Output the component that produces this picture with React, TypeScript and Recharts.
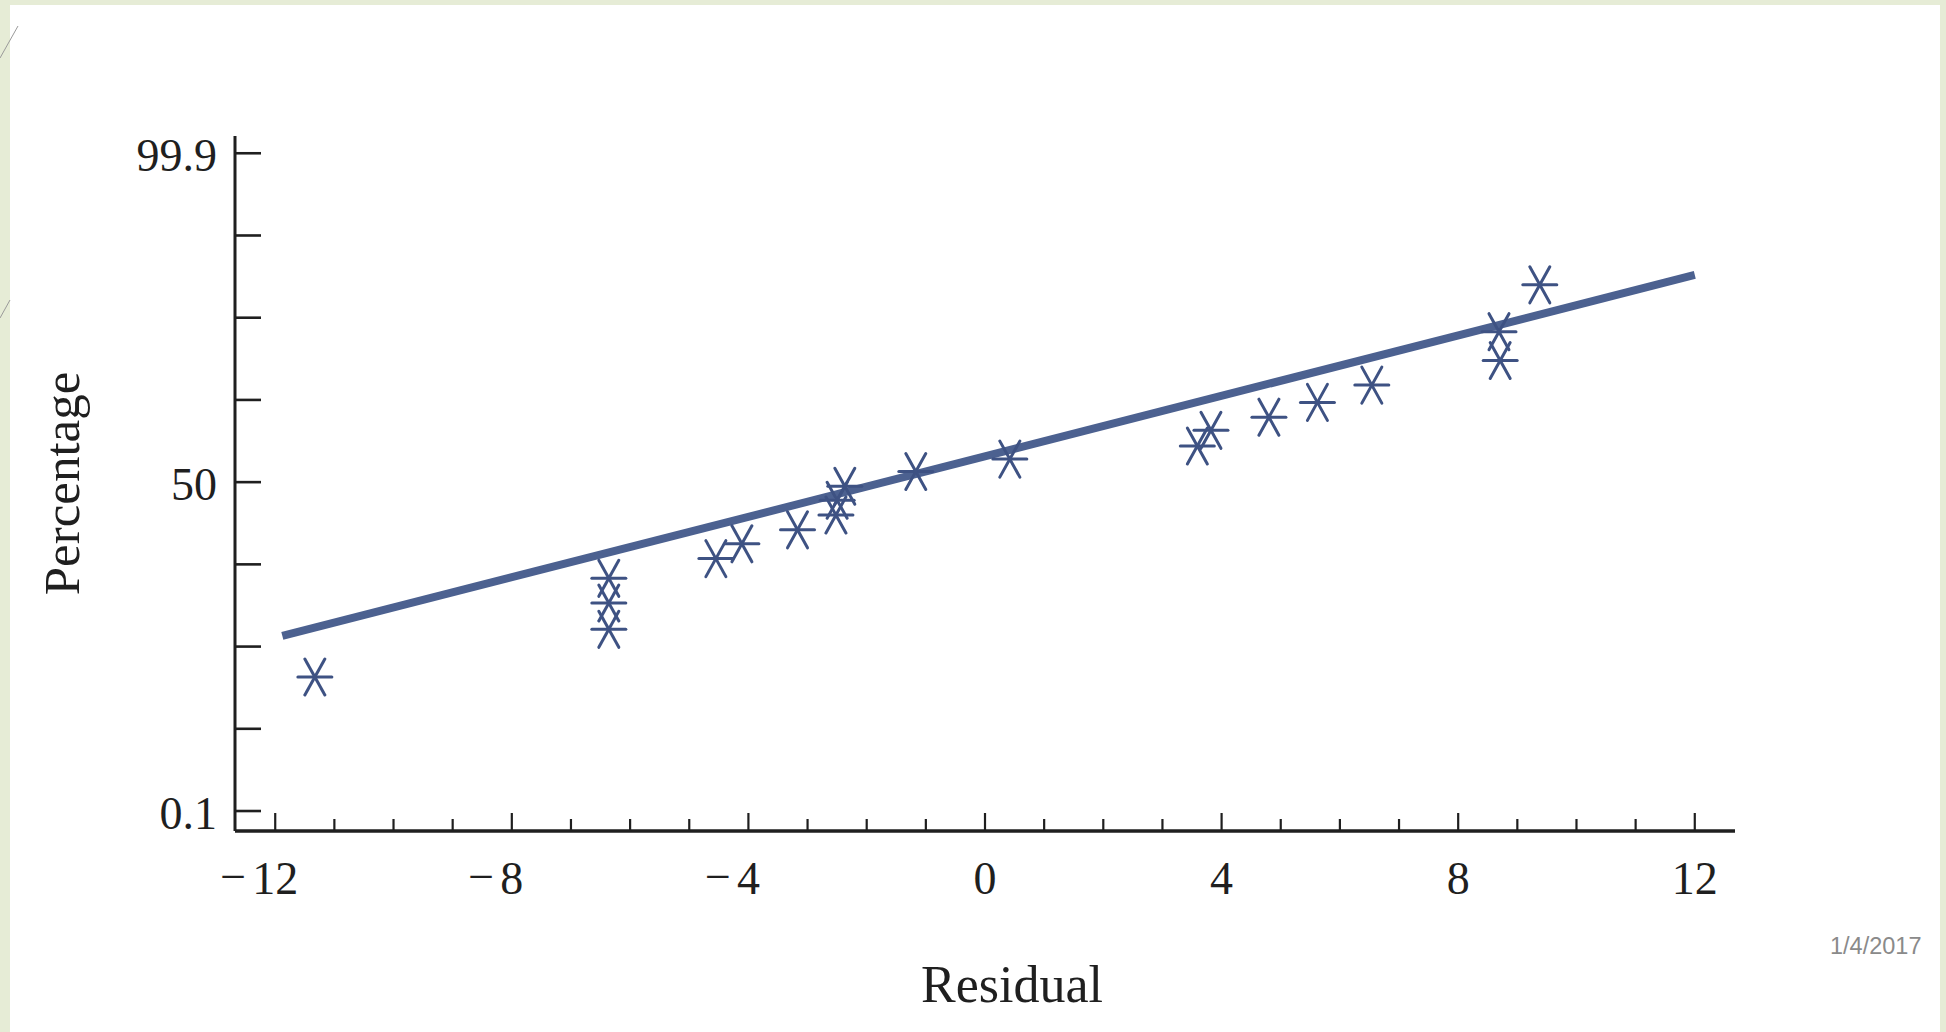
import React from "react";
import { ComposedChart, Scatter, XAxis, YAxis, ReferenceLine } from "recharts";

// residual values (x) and their plotted probability positions (y, in tick steps: 0 = 0.1%, 4 = 50%, 8 = 99.9%)
const residuals = [
    -11.33, -6.36, -6.36, -6.36, -4.55, -4.11, -3.17, -2.52, -2.5, -2.37,
    -1.17, 0.42, 3.59, 3.82, 4.8, 5.62, 6.54, 8.71, 8.69, 9.38,
];
const positions = [
    1.63, 2.21, 2.53, 2.83, 3.07, 3.25, 3.42, 3.6, 3.78, 3.95,
    4.13, 4.28, 4.44, 4.63, 4.79, 4.97, 5.18, 5.48, 5.83, 6.4,
];

const xTicks = [-12, -11, -10, -9, -8, -7, -6, -5, -4, -3, -2, -1, 0, 1, 2, 3, 4, 5, 6, 7, 8, 9, 10, 11, 12];
const yTicks = [0, 1, 2, 3, 4, 5, 6, 7, 8];
const yLabels: Record<number, string> = { 0: "0.1", 4: "50", 8: "99.9" };

// fitted line end points
const fitStart = { x: -11.88, y: 2.13 };
const fitEnd = { x: 12, y: 6.52 };

const data = residuals.map((r, i) => ({ x: r, y: positions[i] }));

const SERIF = "'Liberation Serif', 'Times New Roman', serif";
const INK = "#1f1f1f";
const FS = 46;

const Star = (props: any) => {
    const { cx, cy } = props;
    if (cx == null || cy == null) return null;
    const c = "#3e5283";
    return (
        <g stroke={c} strokeWidth={3} strokeLinecap="round">
            <line x1={cx - 17} y1={cy} x2={cx + 17} y2={cy} />
            <line x1={cx - 10} y1={cy - 18} x2={cx + 10} y2={cy + 18} />
            <line x1={cx + 10} y1={cy - 18} x2={cx - 10} y2={cy + 18} />
        </g>
    );
};

const XTick = (props: any) => {
    const { x, y, payload } = props;
    const v = payload.value;
    const major = v % 4 === 0;
    const len = major ? 18 : 12;
    const digits = String(Math.abs(v));
    const half = (digits.length * FS * 0.5) / 2;
    return (
        <g>
            <line x1={x} y1={y} x2={x} y2={y - len} stroke={INK} strokeWidth={2.2} />
            {major && (
                <text x={x} y={y + 47} textAnchor="middle" dominantBaseline="central" fontFamily={SERIF} fontSize={FS} fill={INK}>
                    {digits}
                </text>
            )}
            {major && v < 0 && (
                <text x={x - half - 6} y={y + 45} textAnchor="end" dominantBaseline="central" fontFamily={SERIF} fontSize={FS} fill={INK}>
                    {"\u2212"}
                </text>
            )}
        </g>
    );
};

const YTick = (props: any) => {
    const { x, y, payload } = props;
    const label = yLabels[payload.value];
    return (
        <g>
            <line x1={x} y1={y} x2={x + 26} y2={y} stroke={INK} strokeWidth={2.6} />
            {label && (
                <text x={x - 18} y={y + 2} textAnchor="end" dominantBaseline="central" fontFamily={SERIF} fontSize={FS} fill={INK}>
                    {label}
                </text>
            )}
        </g>
    );
};

export default function App() {
    return (
        <div style={{ position: "absolute", left: 0, top: 0, width: 1946, height: 1032, background: "#ffffff", overflow: "hidden" }}>
            {/* slide frame */}
            <div style={{ position: "absolute", left: 0, top: 0, width: 10, height: 1032, background: "#e6ecd6" }} />
            <div style={{ position: "absolute", left: 0, top: 0, width: 1946, height: 5, background: "#e6ecd6" }} />
            <div style={{ position: "absolute", left: 1940, top: 0, width: 6, height: 1032, background: "#e6ecd6" }} />
            <svg style={{ position: "absolute", left: 0, top: 0 }} width={40} height={340}>
                <line x1={0} y1={58} x2={18} y2={26} stroke="#9a9a9a" strokeWidth={1} />
                <line x1={0} y1={318} x2={10} y2={300} stroke="#9a9a9a" strokeWidth={1} />
            </svg>
            <div style={{ position: "absolute", left: 1830, top: 933, fontFamily: "'Liberation Sans', sans-serif", fontSize: 23.5, color: "#8a8a8a" }}>
                1/4/2017
            </div>
            <div style={{ position: "absolute", left: 0, top: 0 }}>
                <ComposedChart width={1946} height={1032} margin={{ top: 136, right: 211, bottom: 171, left: 175 }}>
                    <XAxis
                        type="number"
                        dataKey="x"
                        domain={[-12.68, 12.68]}
                        ticks={xTicks}
                        interval={0}
                        height={30}
                        tickSize={0}
                        tickMargin={0}
                        tickLine={false}
                        axisLine={{ stroke: INK, strokeWidth: 3.5 }}
                        tick={<XTick />}
                        label={{ value: "Residual", position: "bottom", offset: 104, dx: 27, fontFamily: SERIF, fontSize: 52, fill: INK }}
                    />
                    <YAxis
                        type="number"
                        dataKey="y"
                        domain={[-0.243, 8.21]}
                        ticks={yTicks}
                        interval={0}
                        width={60}
                        tickSize={0}
                        tickMargin={0}
                        tickLine={false}
                        axisLine={{ stroke: INK, strokeWidth: 3 }}
                        tick={<YTick />}
                        label={{ value: "Percentage", angle: -90, position: "left", offset: 114, fontFamily: SERIF, fontSize: 51, fill: INK, textAnchor: "middle" }}
                    />
                    <ReferenceLine
                        segment={[fitStart, fitEnd]}
                        stroke="#4c6190"
                        strokeWidth={8}
                        ifOverflow="visible"
                    />
                    <Scatter data={data} shape={<Star />} isAnimationActive={false} />
                </ComposedChart>
            </div>
        </div>
    );
}
